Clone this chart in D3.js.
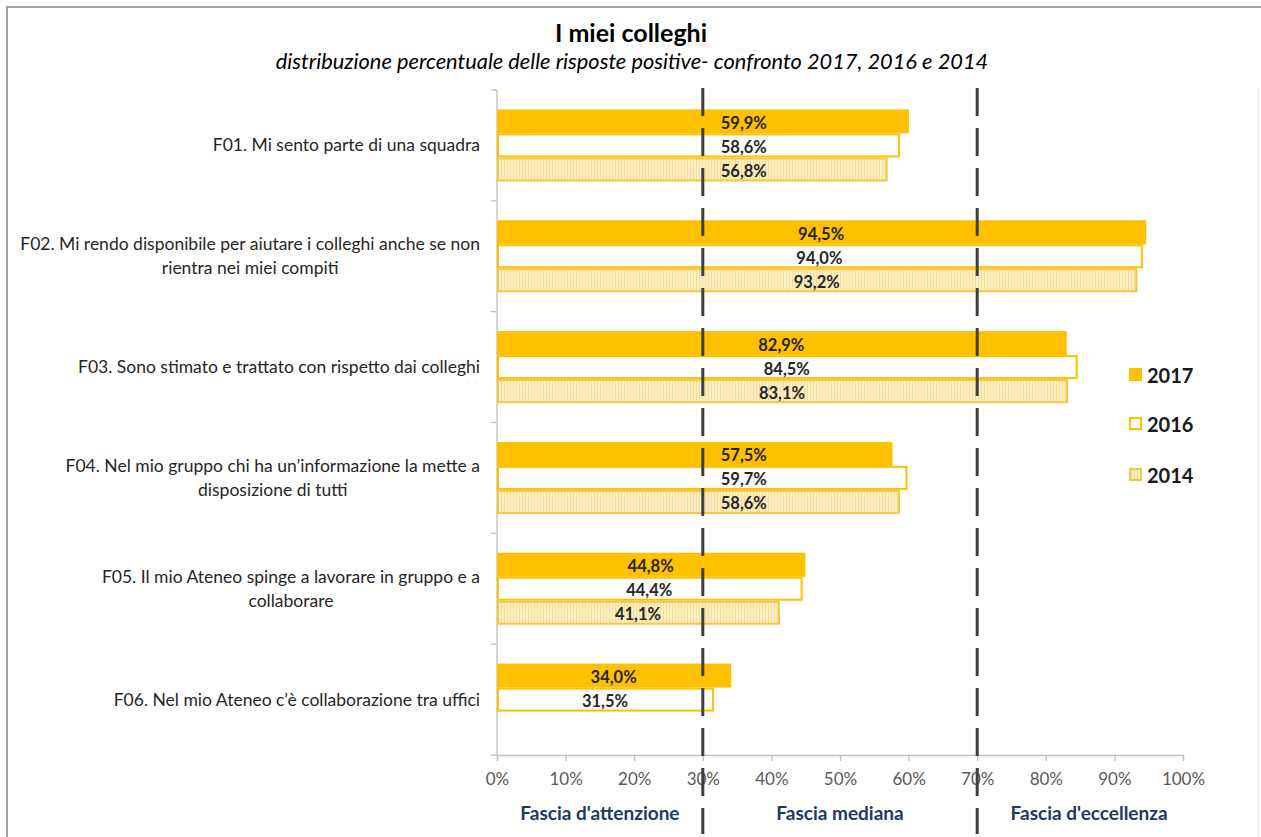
<!DOCTYPE html>
<html>
<head>
<meta charset="utf-8">
<script src="https://cdn.jsdelivr.net/npm/d3@7"></script>
<style>
  html, body { margin: 0; padding: 0; background: #fff; }
  svg { display: block; font-family: Lato, "Open Sans", sans-serif; }
</style>
</head>
<body>
<svg id="chart" width="1261" height="837"></svg>
<script>
// Survey items (one per row)
const categories = [
  "F01. Mi sento parte di una squadra",
  "F02. Mi rendo disponibile per aiutare i colleghi anche se non|rientra nei miei compiti",
  "F03. Sono stimato e trattato con rispetto dai colleghi",
  "F04. Nel mio gruppo chi ha un’informazione la mette a|disposizione di tutti",
  "F05. Il mio Ateneo spinge a lavorare in gruppo e a|collaborare",
  "F06. Nel mio Ateneo c’è collaborazione tra uffici"
];
const seriesNames = ["2017", "2016", "2014"];
// Share of positive answers (%)
const values2017 = [59.9, 94.5, 82.9, 57.5, 44.8, 34.0];
const values2016 = [58.6, 94.0, 84.5, 59.7, 44.4, 31.5];
const values2014 = [56.8, 93.2, 83.1, 58.6, 41.1, null];
const xTicks = [0, 10, 20, 30, 40, 50, 60, 70, 80, 90, 100];
const thresholds = [30, 70];
const bandLabels = ["Fascia d'attenzione", "Fascia mediana", "Fascia d'eccellenza"];

const seriesValues = { "2017": values2017, "2016": values2016, "2014": values2014 };

const svg = d3.select("#chart");
const W = 1261, H = 837;
const margin = { left: 497, right: 78, top: 90, bottom: 82 };

// Frame
svg.append("line").attr("x1", 7).attr("x2", W).attr("y1", 7).attr("y2", 7)
  .attr("stroke", "#a3a3a3").attr("stroke-width", 2);
svg.append("line").attr("x1", 7).attr("x2", 7).attr("y1", 6).attr("y2", H)
  .attr("stroke", "#a3a3a3").attr("stroke-width", 2);
svg.append("line").attr("x1", 1258.5).attr("x2", 1258.5).attr("y1", 88).attr("y2", H)
  .attr("stroke", "#e6e6e6").attr("stroke-width", 1);

// Titles
svg.append("text").attr("x", 631).attr("y", 42).attr("text-anchor", "middle")
  .attr("font-size", 25).attr("font-weight", "bold").attr("fill", "#000")
  .text("I miei colleghi");
svg.append("text").attr("x", 632).attr("y", 69).attr("text-anchor", "middle")
  .attr("font-size", 21.8).attr("font-style", "italic").attr("fill", "#000")
  .text("distribuzione percentuale delle risposte positive- confronto 2017, 2016 e 2014");

const x = d3.scaleLinear().domain([0, 100]).range([margin.left, W - margin.right]);
const y = d3.scaleBand().domain(d3.range(categories.length))
  .range([margin.top, H - margin.bottom]).paddingInner(0.35).paddingOuter(0.175);
const ySeries = d3.scaleBand().domain(seriesNames).range([0, y.bandwidth()]);

// Patterns for the 2014 bars
const defs = svg.append("defs");
const pat = defs.append("pattern").attr("id", "hatch2014")
  .attr("patternUnits", "userSpaceOnUse").attr("width", 3).attr("height", 3);
pat.append("rect").attr("width", 3).attr("height", 3).attr("fill", "#fcefc6");
pat.append("line").attr("x1", 0.5).attr("x2", 0.5).attr("y1", 0).attr("y2", 3)
  .attr("stroke", "#f5dd96").attr("stroke-width", 1);

const styles = {
  "2017": { fill: "#ffc000", stroke: "#ffc000" },
  "2016": { fill: "#ffffff", stroke: "#ffc000" },
  "2014": { fill: "url(#hatch2014)", stroke: "#f6c842" }
};

// Axes
const yAxisG = svg.append("g").attr("transform", `translate(${margin.left},0)`);
yAxisG.append("line").attr("x1", 0).attr("x2", 0)
  .attr("y1", margin.top).attr("y2", H - margin.bottom)
  .attr("stroke", "#bfbfbf").attr("stroke-width", 1.3);
const boundaries = d3.range(categories.length + 1).map(i => margin.top + i * y.step());
yAxisG.selectAll("line.tk").data(boundaries).join("line").attr("class", "tk")
  .attr("x1", -6).attr("x2", 0).attr("y1", d => d).attr("y2", d => d)
  .attr("stroke", "#bfbfbf").attr("stroke-width", 1.3);

const xAxis = d3.axisBottom(x).tickValues(xTicks).tickSize(6).tickPadding(12)
  .tickFormat(d => d + "%");
const xAxisG = svg.append("g").attr("transform", `translate(0,${H - margin.bottom})`).call(xAxis);
xAxisG.select(".domain").attr("stroke", "#bfbfbf").attr("stroke-width", 1.3);
xAxisG.selectAll(".tick line").attr("stroke", "#bfbfbf").attr("stroke-width", 1.3);
xAxisG.selectAll(".tick text").attr("font-family", "Lato, sans-serif")
  .attr("font-size", 17).attr("fill", "#595959");

// Category labels (centred block, right edge aligned to axis)
const catG = svg.append("g");
categories.forEach((c, i) => {
  const lines = c.split("|");
  const cy = y(i) + y.bandwidth() / 2;
  const lh = 24;
  const t = catG.append("text").attr("font-size", 17.5).attr("fill", "#262626")
    .attr("text-anchor", "middle");
  lines.forEach((ln, j) => {
    t.append("tspan").attr("x", 0)
      .attr("y", cy + (j - (lines.length - 1) / 2) * lh + 6).text(ln);
  });
  let maxW = 0;
  t.selectAll("tspan").each(function () { maxW = Math.max(maxW, this.getComputedTextLength()); });
  t.selectAll("tspan").attr("x", 480 - maxW / 2);
});

// Bars
const barG = svg.append("g");
const rows = [];
categories.forEach((c, i) => {
  seriesNames.forEach(s => {
    const v = seriesValues[s][i];
    if (v != null) rows.push({ i, s, v });
  });
});
barG.selectAll("rect").data(rows).join("rect")
  .attr("x", x(0) + 1)
  .attr("y", d => y(d.i) + ySeries(d.s) + 1)
  .attr("width", d => x(d.v) - x(0) - 1)
  .attr("height", ySeries.bandwidth() - 2)
  .attr("fill", d => styles[d.s].fill)
  .attr("stroke", d => styles[d.s].stroke)
  .attr("stroke-width", 2);

// Threshold lines
svg.append("g").selectAll("line").data(thresholds).join("line")
  .attr("x1", d => x(d)).attr("x2", d => x(d))
  .attr("y1", 88).attr("y2", 834)
  .attr("stroke", "#3f3f3f").attr("stroke-width", 3)
  .attr("stroke-dasharray", "28,12");

// Value labels: centred on the bar, nudged right of a threshold line when crossing it
const fmt = v => v.toFixed(1).replace(".", ",") + "%";
const lblG = svg.append("g");
rows.forEach(d => {
  const t = lblG.append("text")
    .attr("y", y(d.i) + ySeries(d.s) + ySeries.bandwidth() / 2 + 7.5)
    .attr("font-size", 16.5).attr("font-weight", "bold").attr("fill", "#262626")
    .text(fmt(d.v));
  const w = t.node().getComputedTextLength();
  let left = (x(0) + x(d.v)) / 2 - w / 2;
  thresholds.forEach(th => {
    const lx = x(th);
    if (left < lx + 4 && left + w > lx - 4) left = lx + 18;
  });
  t.attr("x", left);
});

// Band labels under the axis
const bands = [[0, 30], [30, 70], [70, 100]];
svg.append("g").selectAll("text").data(bands).join("text")
  .attr("x", (d, i) => (x(d[0]) + x(d[1])) / 2 + (i === 2 ? 9 : 0))
  .attr("y", 820).attr("text-anchor", "middle")
  .attr("font-size", 19).attr("font-weight", "bold").attr("fill", "#1f3864")
  .text((d, i) => bandLabels[i]);

// Legend
const legG = svg.append("g");
const legY = [375, 424, 475];
seriesNames.forEach((s, k) => {
  legG.append("rect").attr("x", 1130).attr("y", legY[k] - 6).attr("width", 11).attr("height", 11)
    .attr("fill", styles[s].fill).attr("stroke", styles[s].stroke).attr("stroke-width", 2);
  legG.append("text").attr("x", 1147).attr("y", legY[k] + 8)
    .attr("font-size", 20).attr("font-weight", "bold").attr("fill", "#1a1a1a").text(s);
});
</script>
</body>
</html>
